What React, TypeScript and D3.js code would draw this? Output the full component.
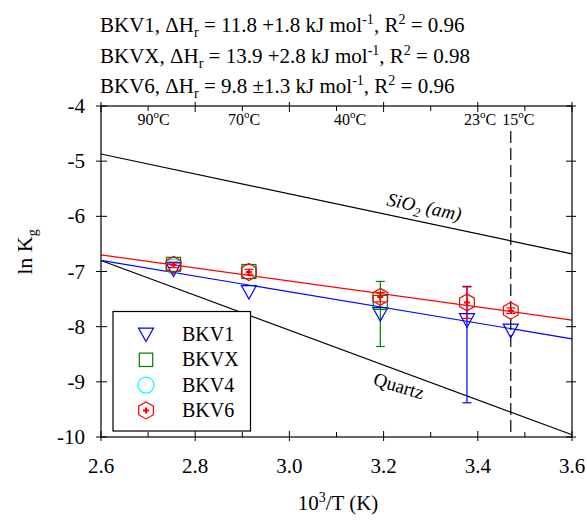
import React from "react";
import * as d3 from "d3";

// Reciprocal temperature positions (10^3/T) of the sampled temperatures
const tempX = [2.754, 2.914, 3.193, 3.377, 3.47];

// ln Kg values per sample set
const bkv1 = [-6.96, -7.37, -7.77, -7.88, -8.07];
const bkvx = [-6.87, -7.0, -7.56];
const bkv4 = [-6.91, -7.0];
const bkv6 = [-6.88, -7.01, -7.46, -7.56, -7.71];

// Error bar limits [index, low, high]
const bkv1Err: [number, number, number][] = [[3, -9.38, -7.27]];
const bkvxErr: [number, number, number][] = [[2, -8.36, -7.18]];
const bkv6Err: [number, number, number][] = [
  [0, -6.93, -6.83],
  [1, -7.05, -6.96],
  [2, -7.55, -7.38],
  [3, -7.85, -7.28],
  [4, -7.76, -7.66],
];

// Fitted lines and reference solubility lines, endpoints at 10^3/T = 2.6 and 3.6
const fitBkv1 = [-6.8, -8.22];
const fitBkv6 = [-6.7, -7.88];
const sio2Am = [-4.87, -6.68];
const quartz = [-6.8, -9.96];

const xTicks = [2.6, 2.8, 3.0, 3.2, 3.4, 3.6];
const yTicks = [-4, -5, -6, -7, -8, -9, -10];

// Temperature labels along the top edge
const tempLabels = ["90", "70", "40", "23", "15"];
const tempLabelX = [2.7115, 2.904, 3.129, 3.405, 3.486];

const headerNames = ["BKV1", "BKVX", "BKV6"];
const headerDH = ["11.8 +1.8", "13.9 +2.8", "9.8 ±1.3"];
const headerR2 = ["0.96", "0.98", "0.96"];

const legendNames = ["BKV1", "BKVX", "BKV4", "BKV6"];

const FONT = '"Liberation Serif", "Times New Roman", Times, serif';
const BLUE = "#0000ff";
const GREEN = "#008000";
const CYAN = "#00ffff";
const RED = "#ff0000";

const x = d3.scaleLinear().domain([2.6, 3.6]).range([101, 572]);
const y = d3.scaleLinear().domain([-10, -4]).range([437, 106]);

function Triangle({ cx, cy, s = 7.5 }: { cx: number; cy: number; s?: number }) {
  const p = `M${cx - s},${cy - s * 0.85} L${cx + s},${cy - s * 0.85} L${cx},${cy + s * 0.95} Z`;
  return <path d={p} fill="none" stroke={BLUE} strokeWidth={1.2} />;
}

function Square({ cx, cy, s = 7 }: { cx: number; cy: number; s?: number }) {
  return <rect x={cx - s} y={cy - s} width={2 * s} height={2 * s} fill="none" stroke={GREEN} strokeWidth={1.2} />;
}

function Circle({ cx, cy, r = 7.5 }: { cx: number; cy: number; r?: number }) {
  return <circle cx={cx} cy={cy} r={r} fill="none" stroke={CYAN} strokeWidth={1.2} />;
}

function Hexagon({ cx, cy, r = 8.5 }: { cx: number; cy: number; r?: number }) {
  const pts = d3.range(6).map((i) => {
    const a = (Math.PI / 3) * i - Math.PI / 2;
    return [cx + r * Math.cos(a), cy + r * Math.sin(a)];
  });
  const c = 3;
  return (
    <g>
      <path d={`M${pts.map((p) => p.join(",")).join("L")}Z`} fill="none" stroke={RED} strokeWidth={1.2} />
      <path d={`M${cx - c},${cy}H${cx + c}M${cx},${cy - c}V${cy + c}`} stroke={RED} strokeWidth={2} />
    </g>
  );
}

function ErrBar({ xv, lo, hi, color }: { xv: number; lo: number; hi: number; color: string }) {
  const px = x(xv);
  const w = 4.5;
  return (
    <g stroke={color} strokeWidth={1.2}>
      <line x1={px} x2={px} y1={y(lo)} y2={y(hi)} />
      <line x1={px - w} x2={px + w} y1={y(lo)} y2={y(lo)} />
      <line x1={px - w} x2={px + w} y1={y(hi)} y2={y(hi)} />
    </g>
  );
}

function TwoPointLine({ v, color }: { v: number[]; color: string }) {
  return <line x1={x(2.6)} y1={y(v[0])} x2={x(3.6)} y2={y(v[1])} stroke={color} strokeWidth={1.2} />;
}

export default function App() {
  const minor = d3.range(2.7, 3.6, 0.2);
  const [x0, x1] = x.range();
  const [yb, yt] = y.range();
  return (
    <svg width={587} height={521} style={{ position: "absolute", left: 0, top: 0, background: "#fff", fontFamily: FONT }}>
      {/* header with fit results */}
      {headerNames.map((n, i) => (
        <text key={n} x={100} y={32 + i * 30.5} fontSize={21}>
          {n}, ΔH<tspan fontSize={14} dy={5}>r</tspan>
          <tspan dy={-5}> = {headerDH[i]} kJ mol</tspan>
          <tspan fontSize={14} dy={-8}>-1</tspan>
          <tspan dy={8}>, R</tspan>
          <tspan fontSize={14} dy={-8}>2</tspan>
          <tspan dy={8}> = {headerR2[i]}</tspan>
        </text>
      ))}

      {/* reference and fitted lines */}
      <TwoPointLine v={sio2Am} color="#000" />
      <TwoPointLine v={quartz} color="#000" />
      <TwoPointLine v={fitBkv1} color={BLUE} />
      <TwoPointLine v={fitBkv6} color={RED} />

      {/* 15 °C marker */}
      <line x1={x(3.47)} x2={x(3.47)} y1={131} y2={yb} stroke="#000" strokeWidth={1.2} strokeDasharray="12,5" />

      <text transform={`translate(423,213) rotate(12)`} textAnchor="middle" fontSize={19} fontStyle="italic">
        SiO<tspan fontSize={13} dy={5}>2</tspan>
        <tspan dy={-5}> (am)</tspan>
      </text>
      <text transform={`translate(397,392) rotate(17)`} textAnchor="middle" fontSize={19}>
        Quartz
      </text>

      {/* error bars */}
      {bkv1Err.map(([i, lo, hi]) => (
        <ErrBar key={"b" + i} xv={tempX[i]} lo={lo} hi={hi} color={BLUE} />
      ))}
      {bkvxErr.map(([i, lo, hi]) => (
        <ErrBar key={"g" + i} xv={tempX[i]} lo={lo} hi={hi} color={GREEN} />
      ))}
      {bkv6Err.map(([i, lo, hi]) => (
        <ErrBar key={"r" + i} xv={tempX[i]} lo={lo} hi={hi} color={RED} />
      ))}

      {/* markers */}
      {bkv4.map((v, i) => (
        <Circle key={"c" + i} cx={x(tempX[i])} cy={y(v)} />
      ))}
      {bkv1.map((v, i) => (
        <Triangle key={"t" + i} cx={x(tempX[i])} cy={y(v)} />
      ))}
      {bkvx.map((v, i) => (
        <Square key={"s" + i} cx={x(tempX[i])} cy={y(v)} />
      ))}
      {bkv6.map((v, i) => (
        <Hexagon key={"h" + i} cx={x(tempX[i])} cy={y(v)} />
      ))}

      {/* frame */}
      <rect x={x0} y={yt} width={x1 - x0} height={yb - yt} fill="none" stroke="#000" strokeWidth={1.2} />

      {/* bottom and top ticks */}
      {xTicks.map((t) => (
        <g key={"xt" + t} stroke="#000" strokeWidth={1}>
          <line x1={x(t)} x2={x(t)} y1={yb - 6} y2={yb + 4} />
          <line x1={x(t)} x2={x(t)} y1={yt - 4} y2={yt + 6} />
        </g>
      ))}
      {minor.map((t) => (
        <g key={"xm" + t} stroke="#000" strokeWidth={1}>
          <line x1={x(t)} x2={x(t)} y1={yb - 5} y2={yb} />
          <line x1={x(t)} x2={x(t)} y1={yt} y2={yt + 5} />
        </g>
      ))}
      {yTicks.map((t) => (
        <g key={"yt" + t} stroke="#000" strokeWidth={1}>
          <line x1={x0 - 5} x2={x0 + 6} y1={y(t)} y2={y(t)} />
          <line x1={x1 - 6} x2={x1 + 4} y1={y(t)} y2={y(t)} />
        </g>
      ))}

      {/* tick labels */}
      {xTicks.map((t) => (
        <text key={"xl" + t} x={x(t)} y={473} textAnchor="middle" fontSize={21}>
          {t.toFixed(1)}
        </text>
      ))}
      {yTicks.map((t) => (
        <text key={"yl" + t} x={85} y={y(t) + 7} textAnchor="end" fontSize={21}>
          {t}
        </text>
      ))}

      {tempLabels.map((l, i) => (
        <text key={"tl" + l} x={x(tempLabelX[i])} y={124.5} textAnchor="middle" fontSize={16}>
          {l}
          <tspan fontSize={11} dy={-7}>o</tspan>
          <tspan dy={7}>C</tspan>
        </text>
      ))}

      {/* axis titles */}
      <text x={338} y={510} textAnchor="middle" fontSize={21}>
        10<tspan fontSize={14} dy={-8}>3</tspan>
        <tspan dy={8}>/T (K)</tspan>
      </text>
      <text transform="translate(32,252) rotate(-90)" textAnchor="middle" fontSize={22}>
        ln K<tspan fontSize={14} dy={5}>g</tspan>
      </text>

      {/* legend */}
      <rect x={113} y={311.5} width={137.5} height={119.5} fill="#fff" stroke="#000" strokeWidth={1.2} />
      {legendNames.map((n, i) => {
        const cy = 334.5 + i * 25.3;
        const cx = 146;
        return (
          <g key={"lg" + n}>
            {i === 0 && <Triangle cx={cx} cy={cy} />}
            {i === 1 && <Square cx={cx} cy={cy} s={6.7} />}
            {i === 2 && <Circle cx={cx} cy={cy} r={8} />}
            {i === 3 && <Hexagon cx={cx} cy={cy} />}
            <text x={182} y={cy + 6.5} fontSize={20}>
              {n}
            </text>
          </g>
        );
      })}
    </svg>
  );
}
